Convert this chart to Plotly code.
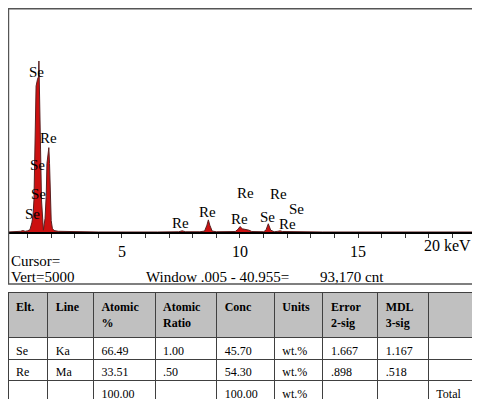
import plotly.graph_objects as go

# spectrum (keV, counts)
energy_kev = [0.17, 0.6, 0.7, 0.8, 0.9, 1.0, 1.10, 1.18, 1.23, 1.27, 1.31, 1.36, 1.42, 1.46,
              1.48, 1.50, 1.53, 1.55, 1.59, 1.63, 1.67, 1.74, 1.79, 1.82, 1.86, 1.90, 1.93,
              1.96, 2.0, 2.05, 2.12, 2.3, 2.6, 3.0, 4.0, 6.5, 7.4, 7.55, 7.7, 8.3, 8.5,
              8.6, 8.66, 8.72, 8.82, 9.0, 9.8, 9.92, 10.0, 10.1, 10.25, 10.38, 10.5, 11.0,
              11.1, 11.2, 11.3, 11.45, 11.6, 11.7, 11.8, 12.3, 12.45, 12.55, 12.7, 13.5, 20.0]
counts = [0, 0, 15, 30, 15, 25, 50, 200, 370, 700, 1800, 3200, 3350, 3400,
          3750, 3350, 2800, 1800, 700, 200, 40, 300, 800, 1500, 1650, 1850, 1500,
          700, 250, 80, 30, 15, 10, 5, 0, 0, 5, 25, 5, 5, 20,
          150, 265, 150, 20, 5, 10, 60, 120, 70, 60, 40, 10, 5,
          40, 180, 40, 5, 15, 25, 10, 5, 20, 15, 3, 0, 0]

# peak labels
label_text = ["Se", "Re", "Se", "Se", "Se", "Re", "Re", "Re", "Re", "Re", "Se", "Se", "Re"]
label_kev = [1.38, 1.88, 1.42, 1.48, 1.19, 7.49, 8.61, 10.24, 10.0, 11.62, 11.17, 12.40, 12.0]
label_cnt = [3510, 2070, 1480, 840, 390, 190, 430, 865, 285, 835, 325, 500, 170]

tick_vals = list(range(1, 21))
tick_text = ["", "", "", "", "5", "", "", "", "", "10", "", "", "", "",
             "15", "", "", "", "", ""]

# quantification table
col_headers = ["Elt.", "Line", "Atomic<br>%", "Atomic<br>Ratio", "Conc", "Units",
               "Error<br>2-sig", "MDL<br>3-sig", ""]
elt = ["Se", "Re", ""]
line = ["Ka", "Ma", ""]
atomic_pct = ["66.49", "33.51", "100.00"]
atomic_ratio = ["1.00", ".50", ""]
conc = ["45.70", "54.30", "100.00"]
units = ["wt.%", "wt.%", "wt.%"]
error_2sig = ["1.667", ".898", ""]
mdl_3sig = ["1.167", ".518", ""]
total_col = ["", "", "Total"]
col_widths = [40, 46, 62, 62, 58, 49, 55, 51, 47]

SERIF = "Liberation Serif"

fig = go.Figure()
fig.add_scatter(
    x=energy_kev, y=counts, mode="lines", fill="tozeroy",
    fillcolor="#cc1010", line=dict(color="#5a2020", width=1),
    showlegend=False, hoverinfo="skip",
)
for t, xk, yc in zip(label_text, label_kev, label_cnt):
    fig.add_annotation(x=xk, y=yc, text=t, showarrow=False,
                       font=dict(family=SERIF, size=15, color="black"))

fig.add_table(
    domain=dict(x=[0, 0.9979], y=[0, 0.2755]),
    columnwidth=col_widths,
    header=dict(values=[f"<b>{h}</b>" for h in col_headers], height=43,
                fill_color="#c0c0c0", line=dict(color="#404040", width=1),
                align="left", font=dict(family=SERIF, size=12, color="black")),
    cells=dict(values=[elt, line, atomic_pct, atomic_ratio, conc, units,
                       error_2sig, mdl_3sig, total_col], height=21.5,
               fill_color="white", line=dict(color="#404040", width=1),
               align="left", font=dict(family=SERIF, size=12, color="black")),
)

# text under the spectrum
notes = [("Cursor=", 0.002, 0.3546), ("Vert=5000", 0.002, 0.3138),
         ("Window .005 - 40.955=", 0.2906, 0.3138), ("93,170 cnt", 0.6624, 0.3138)]
for t, xp, yp in notes:
    fig.add_annotation(x=xp, y=yp, xref="paper", yref="paper", text=t, showarrow=False,
                       xanchor="left", yanchor="middle",
                       font=dict(family=SERIF, size=15, color="black"))
fig.add_annotation(x=0.9936, y=0.3929, xref="paper", yref="paper", text="20 keV",
                   showarrow=False, xanchor="right", yanchor="middle",
                   font=dict(family=SERIF, size=16, color="black"))

fig.add_shape(type="rect", xref="paper", yref="paper", x0=0.001, x1=1, y0=0.2959, y1=0.998,
              line=dict(color="#555555", width=1.5))

fig.update_layout(
    width=472, height=398,
    margin=dict(l=0, r=4, t=0, b=6),
    paper_bgcolor="white", plot_bgcolor="white",
    xaxis=dict(range=[0.17, 20.0], tickvals=tick_vals, ticktext=tick_text,
               ticks="outside", ticklen=4, tickcolor="#333", showgrid=False,
               showline=True, linecolor="black", linewidth=1.5, zeroline=False,
               tickfont=dict(family=SERIF, size=16, color="black")),
    yaxis=dict(domain=[0.4286, 1.0], range=[0, 4912], showticklabels=False,
               showgrid=False, zeroline=False, ticks=""),
)

fig.write_html("out.html")
